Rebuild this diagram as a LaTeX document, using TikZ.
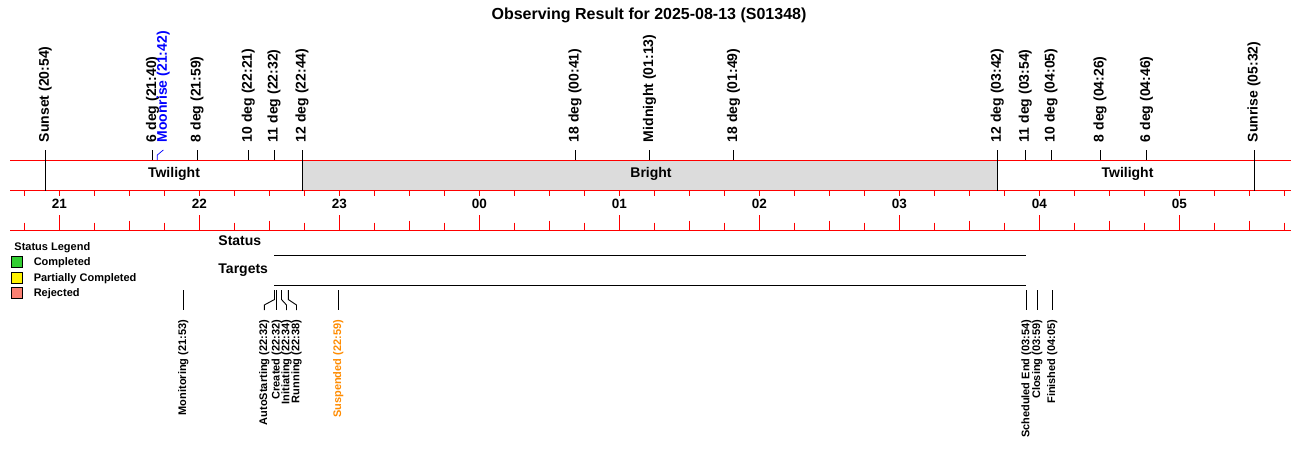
\documentclass[tikz,border=0pt]{standalone}
\usepackage{fontspec}
\setmainfont{Liberation Sans}
\usepackage{xcolor}
\usetikzlibrary{positioning}
\definecolor{brightgray}{RGB}{220,220,220}
\definecolor{susporange}{RGB}{255,140,0}
\definecolor{donegreen}{RGB}{50,205,50}
\definecolor{rejsalmon}{RGB}{250,128,114}
\newcommand{\tpos}[2]{59.3+140*(#1-21)+140*(#2)/60}

\begin{document}
\begin{tikzpicture}[
  x=1pt,
  y=-1pt,
  line width=0.9pt,
  axisline/.style={draw=red},
  eventtxt/.style={font=\bfseries\fontsize{14}{14}\selectfont, rotate=90, anchor=west, inner sep=0pt},
  statetxt/.style={font=\bfseries\fontsize{11}{11}\selectfont, rotate=90, anchor=east, inner sep=0pt},
  hourtxt/.style={font=\bfseries\fontsize{13.5}{13.5}\selectfont, inner sep=0pt},
  bandtxt/.style={font=\bfseries\fontsize{14}{14}\selectfont, inner sep=0pt},
  rowtxt/.style={font=\bfseries\fontsize{14}{14}\selectfont, anchor=base west, inner sep=0pt},
  legtxt/.style={font=\bfseries\fontsize{11}{11}\selectfont, anchor=base west, inner sep=0pt},
  legbox/.style={draw=black, line width=0.8pt}
]
\useasboundingbox[fill=white] (0,0) rectangle (1300,460);

\node[font=\bfseries\fontsize{16}{16}\selectfont] (title) at (649,15) {Observing Result for 2025-08-13 (S01348)};

% night band
\path[fill=brightgray] ({\tpos{22}{44}},160) rectangle ({\tpos{27}{42}},190.5);
\draw[axisline] (10,160) -- (1291,160);
\draw[axisline] (10,190.5) -- (1291,190.5);
\draw[axisline] (10,230) -- (1291,230);
\node[bandtxt] (twleft) at (174,174) {Twilight};
\node[bandtxt] (bright) at (651,174) {Bright};
\node[bandtxt] (twright) at (1127.5,174) {Twilight};

\foreach \k in {0,...,36} {
  \pgfmathsetmacro{\tk}{ifthenelse(mod(\k,4)==1,215,ifthenelse(mod(\k,4)==3,220.5,222.5))}
  \draw[axisline] (24.7+35*\k,190.5) -- (24.7+35*\k,195.5);
  \draw[axisline] (24.7+35*\k,\tk) -- (24.7+35*\k,230);
}
\foreach \lab [count=\j from 0] in {21,22,23,00,01,02,03,04,05} {
  \node[hourtxt] (hr\j) at (59.3+140*\j,204) {\lab};
}

% sun and twilight events
\foreach \h/\m/\txt/\full [count=\i] in {
20/54/Sunset (20:54)/1, 21/40/6 deg (21:40)/0, 21/59/8 deg (21:59)/0,
22/21/10 deg (22:21)/0, 22/32/11 deg (22:32)/0, 22/44/12 deg (22:44)/1,
24/41/18 deg (00:41)/0, 25/13/Midnight (01:13)/0, 25/49/18 deg (01:49)/0,
27/42/12 deg (03:42)/1, 27/54/11 deg (03:54)/0, 28/5/10 deg (04:05)/0,
28/26/8 deg (04:26)/0, 28/46/6 deg (04:46)/0, 29/32/Sunrise (05:32)/1} {
  \node[eventtxt] (evlab\i) at ({\tpos{\h}{\m}},142.5) {\txt};
  \coordinate (ev\i) at ({\tpos{\h}{\m}},150);
  \draw (ev\i) -- ++(0,{10+30.5*\full});
}
\node[eventtxt, text=blue] (moonlab) at (163.3,143) {Moonrise (21:42)};
\coordinate (moon) at ({\tpos{21}{42}},160);
\draw[blue, line width=0.7pt] (moon) -- ++(0,-5) -- (moonlab.west |- 0,150);

% status rows
\node[rowtxt] (status) at (218,245.7) {Status};
\node[rowtxt] (targets) at (218,273.7) {Targets};
\coordinate (sbeg) at ({\tpos{22}{32}+0.5},255);
\coordinate (send) at ({\tpos{27}{54}+1},255);
\coordinate (tbeg) at ({\tpos{22}{32}+0.5},285);
\coordinate (tend) at ({\tpos{27}{54}+1},285);
\draw (sbeg) -- (send);
\draw (tbeg) -- (tend);

\foreach \xt/\xl/\txt/\col [count=\i] in {
183.3/183.3/Monitoring (21:53)/black, 274.5/264.3/AutoStarting (22:32)/black,
276.7/276.7/Created (22:32)/black, 281.5/286.5/Initiating (22:34)/black,
288.3/296.5/Running (22:38)/black, 338.3/338.3/Suspended (22:59)/susporange,
1026.5/1026.5/Scheduled End (03:54)/black, 1037.3/1037.3/Closing (03:59)/black,
1052.3/1052.3/Finished (04:05)/black} {
  \node[statetxt, text=\col] (st\i) at (\xl,319.5) {\txt};
  \coordinate (sttop\i) at (\xt,290);
  \draw (sttop\i) -- ++(0,9.5) -- (\xl,305) -- (\xl,310);
}

% legend
\node[legtxt] (legend) at (14,250) {Status Legend};
\foreach \c/\txt/\y [count=\i] in {donegreen/Completed/256.7, yellow/Partially Completed/272, rejsalmon/Rejected/287} {
  \path[legbox, fill=\c] (11,\y) rectangle (22,\y+11);
  \node[legtxt] (leg\i) at (33.3,\y+9) {\txt};
}
\end{tikzpicture}
\end{document}
